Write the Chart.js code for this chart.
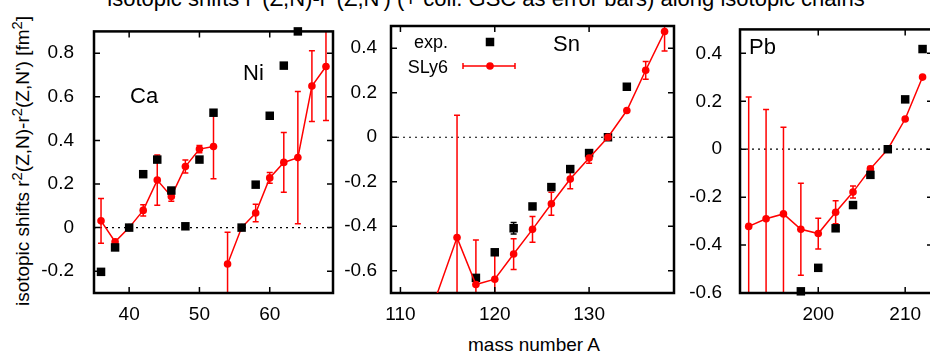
<!DOCTYPE html>
<html>
<head>
<meta charset="utf-8">
<script src="https://cdn.jsdelivr.net/npm/chart.js@4.4.1/dist/chart.umd.min.js"></script>
<style>
  html, body { margin: 0; padding: 0; background: #fff; overflow: hidden; }
  body { width: 930px; height: 352px; position: relative; font-family: "Liberation Sans", Arial, sans-serif; color: #000; }
  canvas { position: absolute; top: 0; }
  .txt { position: absolute; white-space: nowrap; line-height: 1; }
  .txt sup { font-size: 0.78em; line-height: 0; vertical-align: 0.42em; }
  #title { left: 486px; top: -12px; font-size: 22px; transform: translateX(-50%); }
  #xlab { left: 534px; top: 335px; font-size: 19px; transform: translateX(-50%); }
  #ylab { left: 22px; top: 161px; font-size: 19px; transform: translate(-50%, -50%) rotate(-90deg); }
</style>
</head>
<body>
<div class="txt" id="title">isotopic shifts r<sup>2</sup>(Z,N)-r<sup>2</sup>(Z,N') (+ coll. GSC as error bars) along isotopic chains</div>
<div class="txt" id="ylab">isotopic shifts r<sup>2</sup>(Z,N)-r<sup>2</sup>(Z,N') [fm<sup>2</sup>]</div>
<div class="txt" id="xlab">mass number A</div>
<canvas id="caNi" width="320" height="352" style="left:20px"></canvas>
<canvas id="sn" width="340" height="352" style="left:340px"></canvas>
<canvas id="pb" width="260" height="352" style="left:680px"></canvas>
<script>
// Ca chain
const caA = [36, 38, 40, 42, 44, 46, 48, 50, 52];
const caExp = [-0.203, -0.091, 0, 0.245, 0.312, 0.170, 0.006, 0.312, 0.527];
const caSly = [0.031, -0.065, 0, 0.079, 0.218, 0.143, 0.280, 0.360, 0.372];
const caErr = [0.103, 0.01, 0, 0.026, 0.115, 0.022, 0.030, 0.017, 0.148];

// Ni chain
const niExpA = [56, 58, 60, 62, 64];
const niExp = [0, 0.197, 0.513, 0.743, 0.90];
const niSlyA = [54, 56, 58, 60, 62, 64, 66, 68];
const niSly = [-0.167, 0, 0.067, 0.228, 0.299, 0.321, 0.649, 0.739];
const niErr = [0.146, 0, 0.040, 0.025, 0.137, 0.303, 0.162, 0.248];

// Sn chain
const snExpA = [118, 120, 122, 124, 126, 128, 130, 132, 134];
const snExp = [-0.632, -0.517, -0.409, -0.311, -0.224, -0.143, -0.071, 0, 0.227];
const snExpErr = [0, 0, 0.026, 0, 0, 0, 0, 0, 0];
const snSlyA = [112, 116, 118, 120, 122, 124, 126, 128, 130, 132, 134, 136, 138];
const snSly = [-0.93, -0.451, -0.662, -0.638, -0.525, -0.414, -0.299, -0.188, -0.093, 0, 0.120, 0.301, 0.475];
const snErr = [0, 0.55, 0.2, 0.131, 0.069, 0.058, 0.052, 0.044, 0.024, 0, 0, 0.040, 0.087];

// Pb chain
const pbExpA = [198, 200, 202, 204, 206, 208, 210, 212];
const pbExp = [-0.593, -0.495, -0.330, -0.233, -0.107, 0, 0.208, 0.418];
const pbSlyA = [192, 194, 196, 198, 200, 202, 204, 206, 208, 210, 212];
const pbSly = [-0.322, -0.290, -0.270, -0.334, -0.352, -0.263, -0.179, -0.082, 0, 0.126, 0.301];
const pbErr = [0.54, 0.456, 0.362, 0.192, 0.064, 0.048, 0.025, 0.010, 0, 0, 0];

// axis ticks
const caNiXTicks = [40, 50, 60];
const caNiYTicks = [-0.2, 0, 0.2, 0.4, 0.6, 0.8];
const snXTicks = [110, 120, 130];
const snYTicks = [-0.6, -0.4, -0.2, 0, 0.2, 0.4];
const pbXTicks = [200, 210];
const pbYTicks = [-0.6, -0.4, -0.2, 0, 0.2, 0.4];

const RED = '#ff0000';
Chart.defaults.font.family = '"Liberation Sans", Arial, sans-serif';
Chart.defaults.color = '#000';

const pts = (xs, ys) => xs.map((x, i) => ({ x: x, y: ys[i] }));

function expSet(xs, ys, errs) {
    return {
        data: pts(xs, ys), showLine: false, clip: false,
        pointStyle: 'rect', pointRadius: 6, pointBorderWidth: 0,
        backgroundColor: '#000', borderColor: '#000',
        errors: errs, errColor: '#000'
    };
}

function slySet(xs, ys, errs) {
    return {
        data: pts(xs, ys), showLine: true,
        pointStyle: 'circle', pointRadius: 3.8, pointBorderWidth: 0,
        backgroundColor: RED, borderColor: RED, borderWidth: 1.5,
        errors: errs, errColor: RED
    };
}

// frame, inward ticks, dotted zero line, error bars, text labels, key
const decor = {
    id: 'decor',
    beforeDatasetsDraw(chart, args, opts) {
        const { ctx, chartArea: a, scales: { x, y } } = chart;
        ctx.save();
        ctx.beginPath();
        ctx.rect(a.left, a.top, a.right - a.left, a.bottom - a.top);
        ctx.clip();

        const y0 = y.getPixelForValue(0);
        ctx.strokeStyle = '#000';
        ctx.lineWidth = 1.2;
        ctx.setLineDash([2, 4]);
        ctx.beginPath();
        ctx.moveTo(a.left, y0);
        ctx.lineTo(a.right, y0);
        ctx.stroke();
        ctx.setLineDash([]);

        chart.data.datasets.forEach(ds => {
            if (!ds.errors) return;
            ctx.strokeStyle = ds.errColor;
            ctx.lineWidth = 1.5;
            ds.data.forEach((p, j) => {
                const e = ds.errors[j];
                if (!e) return;
                const px = x.getPixelForValue(p.x);
                const lo = y.getPixelForValue(p.y - e);
                const hi = y.getPixelForValue(p.y + e);
                ctx.beginPath();
                ctx.moveTo(px, lo); ctx.lineTo(px, hi);
                ctx.moveTo(px - 3, lo); ctx.lineTo(px + 3, lo);
                ctx.moveTo(px - 3, hi); ctx.lineTo(px + 3, hi);
                ctx.stroke();
            });
        });
        ctx.restore();

        // inward tick marks on all four sides
        ctx.save();
        ctx.strokeStyle = '#000';
        ctx.lineWidth = 1.5;
        ctx.beginPath();
        x.ticks.forEach(t => {
            const px = x.getPixelForValue(t.value);
            ctx.moveTo(px, a.bottom); ctx.lineTo(px, a.bottom - 6);
            ctx.moveTo(px, a.top); ctx.lineTo(px, a.top + 6);
        });
        y.ticks.forEach(t => {
            const py = y.getPixelForValue(t.value);
            ctx.moveTo(a.left, py); ctx.lineTo(a.left + 6, py);
            ctx.moveTo(a.right, py); ctx.lineTo(a.right - 6, py);
        });
        ctx.stroke();
        ctx.lineWidth = 2.5;
        ctx.strokeRect(a.left, a.top, a.right - a.left, a.bottom - a.top);
        ctx.restore();

        ctx.save();
        ctx.fillStyle = '#000';
        ctx.font = '22px "Liberation Sans", Arial, sans-serif';
        ctx.textBaseline = 'alphabetic';
        (opts.labels || []).forEach(l => ctx.fillText(l.text, l.x, l.y));
        ctx.restore();

        const key = opts.key;
        if (key) {
            ctx.save();
            ctx.font = '18px "Liberation Sans", Arial, sans-serif';
            ctx.textAlign = 'right';
            ctx.fillStyle = '#000';
            ctx.fillText('exp.', key.textRight, key.row1 + 6);
            ctx.fillText('SLy6', key.textRight, key.row2 + 7);
            ctx.fillRect(key.mid - 4.25, key.row1 - 4.25, 8.5, 8.5);
            ctx.strokeStyle = RED;
            ctx.lineWidth = 1.5;
            ctx.beginPath();
            ctx.moveTo(key.x0, key.row2); ctx.lineTo(key.x1, key.row2);
            ctx.moveTo(key.x0, key.row2 - 3); ctx.lineTo(key.x0, key.row2 + 3);
            ctx.moveTo(key.x1, key.row2 - 3); ctx.lineTo(key.x1, key.row2 + 3);
            ctx.stroke();
            ctx.fillStyle = RED;
            ctx.beginPath();
            ctx.arc(key.mid, key.row2, 3.8, 0, Math.PI * 2);
            ctx.fill();
            ctx.restore();
        }
    }
};

function panel(id, cfg) {
    const tickFont = { size: 19 };
    return new Chart(document.getElementById(id), {
        type: 'scatter',
        data: { datasets: cfg.datasets },
        options: {
            responsive: false,
            animation: false,
            events: [],
            layout: { padding: { top: 26, right: cfg.padRight, left: 0, bottom: 0 } },
            plugins: {
                legend: { display: false },
                tooltip: { enabled: false },
                decor: { labels: cfg.labels, key: cfg.key }
            },
            scales: {
                x: {
                    type: 'linear', min: cfg.xMin, max: cfg.xMax,
                    grid: { display: false, drawTicks: false },
                    border: { display: false },
                    ticks: { font: tickFont, padding: 10, autoSkip: false, maxRotation: 0, callback: v => String(v) },
                    afterBuildTicks: s => { s.ticks = cfg.xTicks.map(v => ({ value: v })); },
                    afterFit: s => { s.height = 59; }
                },
                y: {
                    type: 'linear', min: cfg.yMin, max: cfg.yMax,
                    grid: { display: false, drawTicks: false },
                    border: { display: false },
                    ticks: { font: tickFont, padding: cfg.yPad, autoSkip: false, callback: v => String(v) },
                    afterBuildTicks: s => { s.ticks = cfg.yTicks.map(v => ({ value: v })); },
                    afterFit: s => { s.width = cfg.yWidth; }
                }
            }
        },
        plugins: [decor]
    });
}

panel('caNi', {
    xMin: 35, xMax: 69, yMin: -0.3, yMax: 0.9,
    xTicks: caNiXTicks, yTicks: caNiYTicks,
    yWidth: 74, yPad: 20, padRight: 7,
    labels: [{ text: 'Ca', x: 110, y: 103 }, { text: 'Ni', x: 223, y: 80 }],
    datasets: [
        expSet(caA, caExp), expSet(niExpA, niExp),
        slySet(caA, caSly, caErr), slySet(niSlyA, niSly, niErr)
    ]
});

panel('sn', {
    xMin: 109, xMax: 139, yMin: -0.7, yMax: 0.5,
    xTicks: snXTicks, yTicks: snYTicks,
    yWidth: 51, yPad: 14, padRight: 3,
    labels: [{ text: 'Sn', x: 213, y: 51 }],
    key: { textRight: 108, row1: 42, row2: 66, mid: 150, x0: 123, x1: 175 },
    datasets: [
        slySet(snSlyA, snSly, snErr),
        expSet(snExpA, snExp, snExpErr)
    ]
});

panel('pb', {
    xMin: 191, xMax: 213.2, yMin: -0.6, yMax: 0.5,
    xTicks: pbXTicks, yTicks: pbYTicks,
    yWidth: 60, yPad: 18, padRight: 7,
    labels: [{ text: 'Pb', x: 69, y: 54 }],
    datasets: [
        expSet(pbExpA, pbExp),
        slySet(pbSlyA, pbSly, pbErr)
    ]
});
</script>
</body>
</html>
